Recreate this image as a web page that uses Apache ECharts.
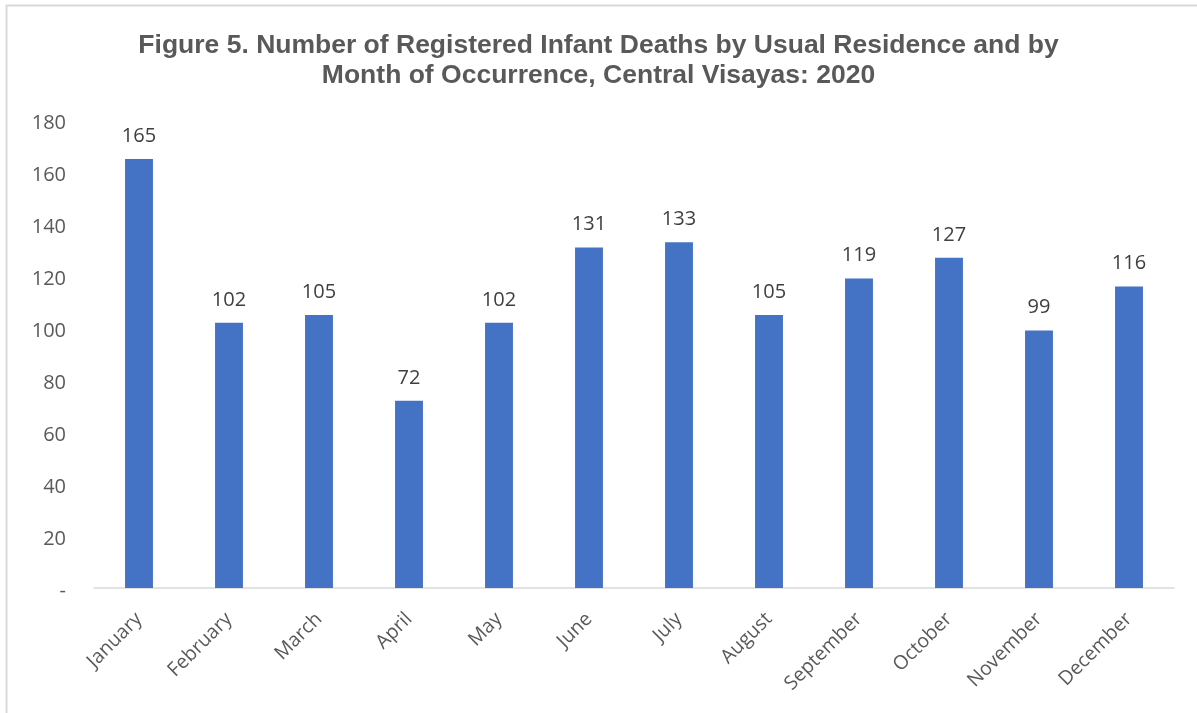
<!DOCTYPE html>
<html><head><meta charset="utf-8">
<script src="https://cdn.jsdelivr.net/npm/echarts@6/dist/echarts.min.js"></script>
<style>html,body{margin:0;padding:0;background:#fff}#c{width:1197px;height:713px}</style>
</head><body><div id="c"></div>
<script>
const months = ['January','February','March','April','May','June','July','August','September','October','November','December'];
const deaths = [165,102,105,72,102,131,133,105,119,127,99,116];
const titleText = 'Figure 5. Number of Registered Infant Deaths by Usual Residence and by\nMonth of Occurrence, Central Visayas: 2020';

const chart = echarts.init(document.getElementById('c'), null, {renderer:'canvas'});
chart.setOption({
  animation:false,
  backgroundColor:'#fff',
  graphic:[{type:'rect',shape:{x:6.5,y:5.5,width:1200,height:720},style:{fill:'none',stroke:'#d9d9d9',lineWidth:2},silent:true,z:-1}],
  title:{text:titleText,left:'center',top:26,textStyle:{fontFamily:'Liberation Sans, Arial',fontWeight:'bold',fontSize:26.5,color:'#595959',lineHeight:30}},
  grid:{left:94,right:23,top:120,bottom:125,containLabel:false},
  xAxis:{type:'category',data:months,
    axisLine:{lineStyle:{color:'#d9d9d9',width:1.5}},axisTick:{show:false},
    axisLabel:{rotate:45,interval:0,margin:28,fontFamily:'Open Sans, Liberation Sans',fontSize:19.5,color:'#595959'}},
  yAxis:{type:'value',min:0,max:180,interval:20,
    splitLine:{show:false},axisLine:{show:false},axisTick:{show:false},
    axisLabel:{margin:28,verticalAlign:'top',lineHeight:7,fontFamily:'Open Sans, Liberation Sans',fontSize:20,color:'#595959',
      formatter:v=>v===0?'-':String(v)}},
  series:[{type:'bar',data:deaths,barCategoryGap:'69%',itemStyle:{color:'#4472C4'},
    label:{show:true,position:'top',distance:13,fontFamily:'Open Sans, Liberation Sans',fontSize:20,color:'#404040'}}]
});
</script></body></html>
